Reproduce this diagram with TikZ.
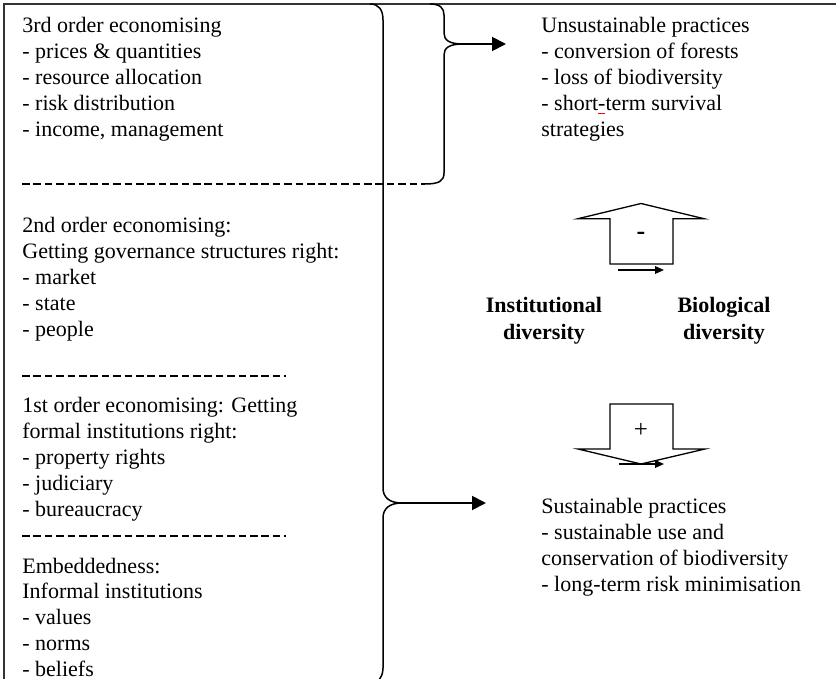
\documentclass[tikz,border=0pt]{standalone}
\usepackage{fontspec}
\setmainfont{Liberation Serif}
\usetikzlibrary{arrows.meta}
\newcommand\redhyph{\leavevmode\rlap{\textcolor{red}{\rule[-2pt]{3.6pt}{0.9pt}}}-}
\begin{document}
\begin{tikzpicture}[x=0.5pt,y=-0.5pt,
 txt/.style={anchor=base west,inner sep=0pt,font=\fontsize{11}{13}\selectfont},
 btxt/.style={anchor=base,inner sep=0pt,font=\fontsize{11}{13}\selectfont\bfseries},
 frame/.style={line width=1.1pt,draw=black!80},
 brace/.style={line width=0.75pt},
 sep/.style={line width=1.25pt,dash pattern=on 3.8pt off 1.9pt},
 arr/.style={line width=0.95pt,-{Triangle[length=7pt,width=7pt]}},
 blk/.style={line width=0.65pt,line join=miter},
 small/.style={line width=0.75pt,-{Triangle[length=4.5pt,width=3.8pt]}}]
\useasboundingbox (0,0) rectangle (836,679);

% frame
\draw[frame] (836,4) -- (4,4) -- (4,679);

% left text blocks
\foreach \s [count=\i from 0] in {3rd order economising, - prices \& quantities, - resource allocation, - risk distribution, {- income, management}}
  \node[txt] (A\i) at (22,{33+25.8*\i}) {\s};
\foreach \s [count=\i from 0] in {2nd order economising:, Getting governance structures right:, - market, - state, - people}
  \node[txt] (B\i) at (22,{233+25.8*\i}) {\s};
\foreach \s [count=\i from 0] in {1st order economising: Getting, formal institutions right:, - property rights, - judiciary, - bureaucracy}
  \node[txt] (C\i) at (22,{413+25.8*\i}) {\s};
\foreach \s [count=\i from 0] in {Embeddedness:, Informal institutions, - values, - norms, - beliefs}
  \node[txt] (D\i) at (22,{573+25.8*\i}) {\s};

% separators
\draw[sep] (22,184) -- (425,184);
\draw[sep] (22,376) -- (286,376);
\draw[sep] (22,536) -- (286,536);

% right texts
\foreach \s [count=\i from 0] in {Unsustainable practices, - conversion of forests, - loss of biodiversity, - short\redhyph term survival, strategies}
  \node[txt] (U\i) at (541,{33+25.8*\i}) {\s};
\foreach \s [count=\i from 0] in {Sustainable practices, - sustainable use and, conservation of biodiversity, - long-term risk minimisation}
  \node[txt] (S\i) at (541,{513.6+25.8*\i}) {\s};

\node[btxt] (inst1) at (544,312.6) {Institutional};
\node[btxt] (inst2) at (544,339.4) {diversity};
\node[btxt] (bio1) at (724,312.6) {Biological};
\node[btxt] (bio2) at (724,339.4) {diversity};

% small brace (top)
\draw[brace] (425,184) .. controls (439,184) and (444,181) .. (444,173)
  -- (444,55) .. controls (444,48) and (449,44) .. (463,44)
  .. controls (449,44) and (444,40) .. (444,33)
  -- (444,15) .. controls (444,8) and (440,4) .. (430,4);
\coordinate (tipS) at (463,44);
\coordinate (endS) at (506,44);
\draw[arr] (tipS) -- (endS);

% big brace
\draw[brace] (370,4) .. controls (379,4) and (383,10) .. (383,20)
  -- (383,488) .. controls (383,497) and (389,503) .. (402,503)
  .. controls (389,503) and (383,509) .. (383,518)
  -- (383,668) .. controls (383,674) and (381,678) .. (377,682);
\coordinate (tipB) at (402,503);
\coordinate (endB) at (486,503);
\draw[arr] (tipB) -- (endB);

% up block arrow (minus)
\draw[blk] (610,264) -- (610,218.7) -- (578,218.7) -- (641,203.5) -- (704,218.7) -- (673,218.7) -- (673,264) -- cycle;
\node[font=\fontsize{13}{15}\selectfont\bfseries,inner sep=0pt] (minus) at (641,236) {-};
\coordinate (m1) at (618,270);
\coordinate (m2) at (664,270);
\draw[small] (m1) -- (m2);

% down block arrow (plus)
\draw[blk] (610,404) -- (673,404) -- (673,449) -- (705,449) -- (641,464) -- (578,449) -- (610,449) -- cycle;
\node[font=\fontsize{12.5}{15}\selectfont,inner sep=0pt] (plus) at (641,430) {+};
\coordinate (p1) at (619,464);
\coordinate (p2) at (664,464);
\draw[small] (p1) -- (p2);
\end{tikzpicture}
\end{document}
